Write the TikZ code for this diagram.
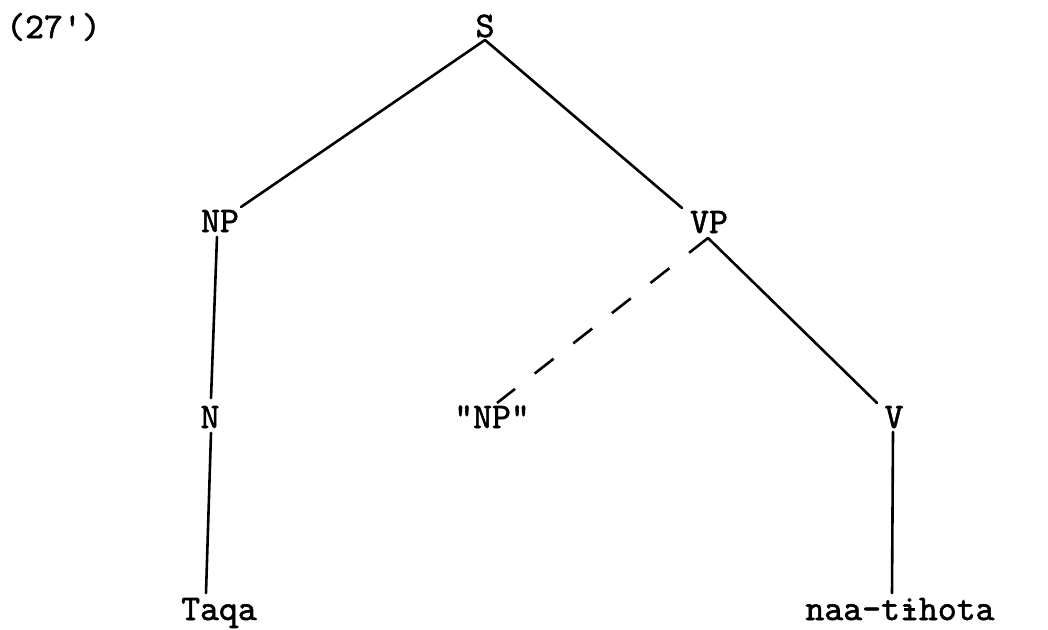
\documentclass[tikz,border=0pt]{standalone}
\usepackage{fontspec}
\font\twfont="[lmmono10-regular.otf]:embolden=1.5" at 36pt
\newcommand{\barredi}{\ooalign{i\cr\hidewidth\rule[0.25em]{0.28em}{0.07em}\hidewidth\cr}}
\begin{document}
\begin{tikzpicture}[x=1pt,y=-1pt,
  lbl/.style={font=\twfont, inner sep=0pt, anchor=base},
  edge/.style={line width=2.6pt, line cap=round},
  dashedge/.style={line width=2.6pt, dash pattern=on 24pt off 25pt}]
\useasboundingbox (0,0) rectangle (1048,629);
% labels
\node[lbl, anchor=base west] (num) at (6,38) {(27')};
\node[lbl] (S) at (485,37) {S};
\node[lbl] (NP) at (220,232) {NP};
\node[lbl] (VP) at (709,233) {VP};
\node[lbl] (N) at (210,428) {N};
\node[lbl] (qNP) at (492,428) {"NP"};
\node[lbl] (V) at (894,428) {V};
\node[lbl] (Taqa) at (219,620) {Taqa};
\node[lbl] (naa) at (900,620) {naa-t\barredi hota};
% line ends
\coordinate (S-b) at (485,40);
\coordinate (NP-t) at (241,207);
\coordinate (VP-t) at (682,208);
\coordinate (NP-b) at (217,237);
\coordinate (N-t) at (211,398);
\coordinate (N-b) at (211,433);
\coordinate (Taqa-t) at (206,593);
\coordinate (VP-b) at (708,238);
\coordinate (qNP-t) at (497,403);
\coordinate (V-t) at (877,403);
\coordinate (V-b) at (893,432);
\coordinate (naa-t) at (892,593);
% connectors
\draw[edge] (S-b) -- (NP-t);
\draw[edge] (S-b) -- (VP-t);
\draw[edge] (NP-b) -- (N-t);
\draw[edge] (N-b) -- (Taqa-t);
\draw[dashedge] (VP-b) -- (qNP-t);
\draw[edge] (VP-b) -- (V-t);
\draw[edge] (V-b) -- (naa-t);
\end{tikzpicture}
\end{document}
